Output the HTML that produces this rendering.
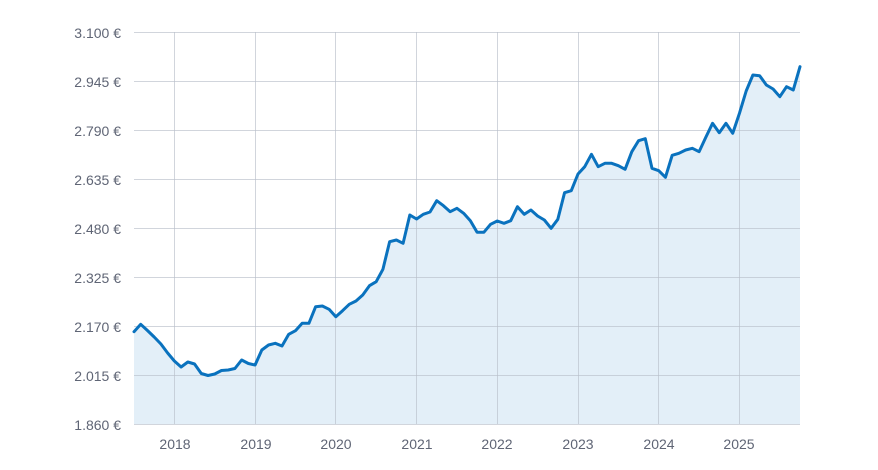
<!DOCTYPE html>
<html><head><meta charset="utf-8"><style>
html,body{margin:0;padding:0;background:#fff;}
svg{display:block;}
text{font-family:"Liberation Sans",Arial,sans-serif;font-size:14px;fill:#5f6575;}
</style></head><body>
<svg width="878" height="470" viewBox="0 0 878 470" xmlns="http://www.w3.org/2000/svg">
<path fill="#e3eff8" d="M134,331.7 L140.73,324.3 L147.45,330.5 L154.18,337 L160.91,344 L167.64,353 L174.36,361 L181.09,367 L187.82,362 L194.55,364 L201.27,373.5 L208,375.5 L214.73,374 L221.45,370.5 L228.18,370 L234.91,368.5 L241.64,360 L248.36,363.5 L255.09,365 L261.82,350 L268.55,345 L275.27,343.3 L282,346 L288.73,334.3 L295.45,330.7 L302.18,323.3 L308.91,323.3 L315.64,306.7 L322.36,306 L329.09,309.3 L335.82,316.7 L342.55,310.7 L349.27,304.3 L356,301 L362.73,295 L369.45,285.7 L376.18,281.7 L382.91,269.3 L389.64,241.7 L396.36,240 L403.09,243.3 L409.82,215 L416.55,219 L423.27,214.3 L430,212 L436.73,200.7 L443.45,205.7 L450.18,211.7 L456.91,208.3 L463.64,213.3 L470.36,220.7 L477.09,232.3 L483.82,232.3 L490.55,224.3 L497.27,221 L504,223.3 L510.73,220.7 L517.45,206.7 L524.18,214.3 L530.91,210 L537.64,216 L544.36,220 L551.09,228.3 L557.82,219.3 L564.55,192.7 L571.27,190.7 L578,174 L584.73,166.7 L591.45,154.3 L598.18,166.7 L604.91,163.3 L611.64,163.3 L618.36,165.7 L625.09,169.3 L631.82,151.7 L638.55,140.7 L645.27,138.7 L652,168.3 L658.73,170.7 L665.45,177.3 L672.18,155.3 L678.91,153.3 L685.64,150 L692.36,148.3 L699.09,151.7 L705.82,137.3 L712.55,123.3 L719.27,132.7 L726,123.3 L732.73,133.3 L739.45,113.3 L746.18,91 L752.91,75 L759.64,75.7 L766.36,85 L773.09,89 L779.82,96.7 L786.55,86.7 L793.27,90 L800,66.7 L800,424 L134,424 Z"/>
<g stroke="#b9bfca" stroke-opacity="0.65" stroke-width="1" fill="none">
<line x1="134" y1="32.5" x2="800" y2="32.5"/>
<line x1="134" y1="81.5" x2="800" y2="81.5"/>
<line x1="134" y1="130.5" x2="800" y2="130.5"/>
<line x1="134" y1="179.5" x2="800" y2="179.5"/>
<line x1="134" y1="228.5" x2="800" y2="228.5"/>
<line x1="134" y1="277.5" x2="800" y2="277.5"/>
<line x1="134" y1="326.5" x2="800" y2="326.5"/>
<line x1="134" y1="375.5" x2="800" y2="375.5"/>
<line x1="134" y1="424.5" x2="800" y2="424.5"/>
<line x1="174.5" y1="32" x2="174.5" y2="424"/>
<line x1="255.5" y1="32" x2="255.5" y2="424"/>
<line x1="335.5" y1="32" x2="335.5" y2="424"/>
<line x1="416.5" y1="32" x2="416.5" y2="424"/>
<line x1="497.5" y1="32" x2="497.5" y2="424"/>
<line x1="578.5" y1="32" x2="578.5" y2="424"/>
<line x1="658.5" y1="32" x2="658.5" y2="424"/>
<line x1="739.5" y1="32" x2="739.5" y2="424"/>
</g>
<path fill="none" stroke="#0a72be" stroke-width="3" stroke-linejoin="round" stroke-linecap="round" d="M134,331.7 L140.73,324.3 L147.45,330.5 L154.18,337 L160.91,344 L167.64,353 L174.36,361 L181.09,367 L187.82,362 L194.55,364 L201.27,373.5 L208,375.5 L214.73,374 L221.45,370.5 L228.18,370 L234.91,368.5 L241.64,360 L248.36,363.5 L255.09,365 L261.82,350 L268.55,345 L275.27,343.3 L282,346 L288.73,334.3 L295.45,330.7 L302.18,323.3 L308.91,323.3 L315.64,306.7 L322.36,306 L329.09,309.3 L335.82,316.7 L342.55,310.7 L349.27,304.3 L356,301 L362.73,295 L369.45,285.7 L376.18,281.7 L382.91,269.3 L389.64,241.7 L396.36,240 L403.09,243.3 L409.82,215 L416.55,219 L423.27,214.3 L430,212 L436.73,200.7 L443.45,205.7 L450.18,211.7 L456.91,208.3 L463.64,213.3 L470.36,220.7 L477.09,232.3 L483.82,232.3 L490.55,224.3 L497.27,221 L504,223.3 L510.73,220.7 L517.45,206.7 L524.18,214.3 L530.91,210 L537.64,216 L544.36,220 L551.09,228.3 L557.82,219.3 L564.55,192.7 L571.27,190.7 L578,174 L584.73,166.7 L591.45,154.3 L598.18,166.7 L604.91,163.3 L611.64,163.3 L618.36,165.7 L625.09,169.3 L631.82,151.7 L638.55,140.7 L645.27,138.7 L652,168.3 L658.73,170.7 L665.45,177.3 L672.18,155.3 L678.91,153.3 L685.64,150 L692.36,148.3 L699.09,151.7 L705.82,137.3 L712.55,123.3 L719.27,132.7 L726,123.3 L732.73,133.3 L739.45,113.3 L746.18,91 L752.91,75 L759.64,75.7 L766.36,85 L773.09,89 L779.82,96.7 L786.55,86.7 L793.27,90 L800,66.7"/>
<g text-anchor="end">
<text x="121" y="38">3.100 €</text>
<text x="121" y="87">2.945 €</text>
<text x="121" y="136">2.790 €</text>
<text x="121" y="185">2.635 €</text>
<text x="121" y="234">2.480 €</text>
<text x="121" y="283">2.325 €</text>
<text x="121" y="332">2.170 €</text>
<text x="121" y="381">2.015 €</text>
<text x="121" y="430">1.860 €</text>
</g>
<g text-anchor="middle">
<text x="175" y="449">2018</text>
<text x="256" y="449">2019</text>
<text x="336" y="449">2020</text>
<text x="417" y="449">2021</text>
<text x="497" y="449">2022</text>
<text x="578" y="449">2023</text>
<text x="659" y="449">2024</text>
<text x="739" y="449">2025</text>
</g>
</svg>
</body></html>
